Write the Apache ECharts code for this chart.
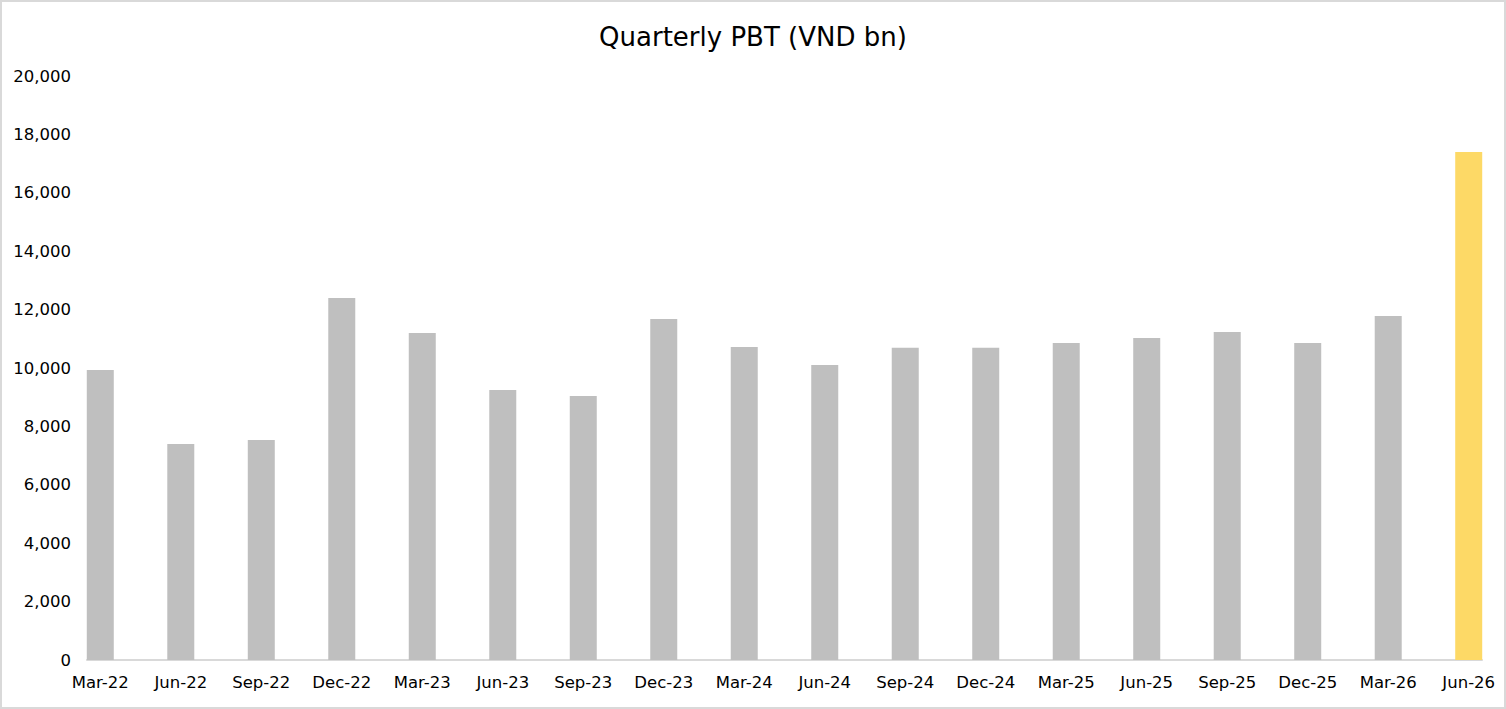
<!DOCTYPE html>
<html>
<head>
<meta charset="utf-8">
<script src="https://cdn.jsdelivr.net/npm/echarts@6/dist/echarts.min.js"></script>
<style>
  html, body { margin: 0; padding: 0; background: #fff; }
  #chart { position: absolute; left: 0; top: 0; width: 1502px; height: 705px; border: 2px solid #d9d9d9; }
</style>
</head>
<body>
<div id="chart"></div>
<script>
// Quarterly PBT, VND bn
const quarters = ["Mar-22", "Jun-22", "Sep-22", "Dec-22", "Mar-23", "Jun-23", "Sep-23", "Dec-23", "Mar-24",
  "Jun-24", "Sep-24", "Dec-24", "Mar-25", "Jun-25", "Sep-25", "Dec-25", "Mar-26", "Jun-26"];
const pbt = [9930, 7400, 7530, 12400, 11200, 9250, 9040, 11680, 10720,
  10100, 10690, 10690, 10860, 11030, 11230, 10860, 11780, 17400];
const highlightIndex = 17; // last quarter drawn in yellow

const GREY = "#bfbfbf";
const GOLD = "#fdd966";
const FONT = "DejaVu Sans";

const chart = echarts.init(document.getElementById("chart"), null, { renderer: "svg" });

// x is a value axis so the baseline can run past the first and last bar
const positions = quarters.map((q, i) => i);
const pad = 0.165;

chart.setOption({
  animation: false,
  textStyle: { fontFamily: FONT },
  title: {
    text: "Quarterly PBT (VND bn)",
    left: "center",
    top: 17,
    textStyle: { fontFamily: FONT, fontSize: 26, fontWeight: "normal", color: "#000" }
  },
  grid: { left: 85, right: 22, top: 74, bottom: 47 },
  xAxis: {
    type: "value",
    min: -pad,
    max: quarters.length - 1 + pad,
    splitLine: { show: false },
    axisTick: { show: false },
    axisLine: { show: true, onZero: false, lineStyle: { color: "#d9d9d9", width: 2 } },
    axisLabel: {
      customValues: positions,
      color: "#000",
      fontSize: 16.5,
      margin: 14,
      fontFamily: FONT,
      formatter: v => quarters[v]
    }
  },
  yAxis: {
    type: "value",
    min: 0,
    max: 20000,
    interval: 2000,
    splitLine: { show: false },
    axisLine: { show: false },
    axisTick: { show: false },
    axisLabel: {
      color: "#000",
      fontSize: 16.5,
      margin: 16,
      fontFamily: FONT,
      formatter: v => v.toLocaleString("en-US")
    }
  },
  series: [{
    type: "bar",
    barWidth: 27,
    data: pbt.map((v, i) => ({
      value: [i, v],
      itemStyle: { color: i === highlightIndex ? GOLD : GREY }
    }))
  }]
});
</script>
</body>
</html>
